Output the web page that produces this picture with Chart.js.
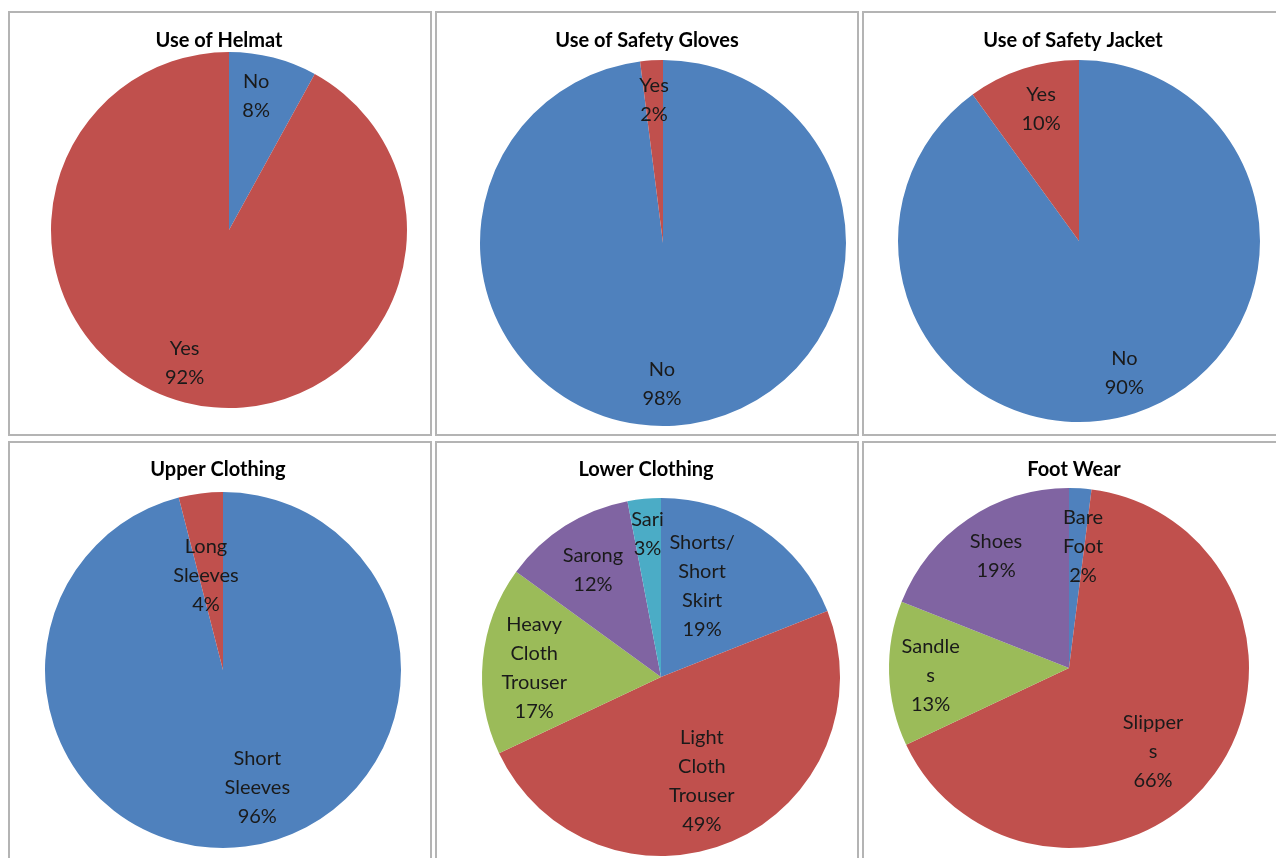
<!DOCTYPE html>
<html>
<head>
<meta charset="utf-8">
<script src="https://cdn.jsdelivr.net/npm/chart.js@4"></script>
<style>
  html, body { margin: 0; padding: 0; background: #fff; overflow: hidden; }
  body { width: 1276px; height: 858px; position: relative; }
  .panel { position: absolute; width: 424px; height: 425px; }
  .panel canvas { position: absolute; left: 0; top: 0; }
  .frame { position: absolute; left: 0; top: 0; right: 0; bottom: 0; border: 2px solid #b4b4b4; box-sizing: border-box; pointer-events: none; }
</style>
</head>
<body>
<div class="panel" style="left:8px;top:11px"><canvas id="c1" width="424" height="425"></canvas><div class="frame"></div></div>
<div class="panel" style="left:435px;top:11px"><canvas id="c2" width="424" height="425"></canvas><div class="frame"></div></div>
<div class="panel" style="left:862px;top:11px"><canvas id="c3" width="424" height="425"></canvas><div class="frame"></div></div>
<div class="panel" style="left:8px;top:441px"><canvas id="c4" width="424" height="425"></canvas><div class="frame"></div></div>
<div class="panel" style="left:435px;top:441px"><canvas id="c5" width="424" height="425"></canvas><div class="frame"></div></div>
<div class="panel" style="left:862px;top:441px"><canvas id="c6" width="424" height="425"></canvas><div class="frame"></div></div>
<script>
// Survey data (percent of respondents)
const helmetLabels = [['No'], ['Yes']];
const helmetValues = [8, 92];

const glovesLabels = [['No'], ['Yes']];
const glovesValues = [98, 2];

const jacketLabels = [['No'], ['Yes']];
const jacketValues = [90, 10];

const upperLabels = [['Short', 'Sleeves'], ['Long', 'Sleeves']];
const upperValues = [96, 4];

const lowerLabels = [['Shorts/', 'Short', 'Skirt'], ['Light', 'Cloth', 'Trouser'], ['Heavy', 'Cloth', 'Trouser'], ['Sarong'], ['Sari']];
const lowerValues = [19, 49, 17, 12, 3];

const footLabels = [['Bare', 'Foot'], ['Slipper', 's'], ['Sandle', 's'], ['Shoes']];
const footValues = [2, 66, 13, 19];

// Office-style series colours
const palette = ['#4F81BD', '#C0504D', '#9BBB59', '#8064A2', '#4BACC6'];

const FONT = "Lato, 'Open Sans', sans-serif";

// draws the title and the in-slice labels
const pieText = {
  id: 'pieText',
  afterDatasetsDraw(chart, args, opts) {
    const ctx = chart.ctx;
    ctx.save();
    ctx.fillStyle = '#000';
    ctx.font = 'bold 20px ' + FONT;
    ctx.textAlign = 'center';
    ctx.textBaseline = 'middle';
    ctx.fillText(opts.title, opts.titleX, opts.titleY);

    ctx.font = '20px ' + FONT;
    ctx.fillStyle = '#1a1a1a';
    const meta = chart.getDatasetMeta(0);
    const values = chart.data.datasets[0].data;
    meta.data.forEach((arc, i) => {
      const p = arc.getProps(['x', 'y', 'startAngle', 'endAngle', 'outerRadius'], true);
      const mid = (p.startAngle + p.endAngle) / 2 + (opts.nudge[i] || 0) * Math.PI / 180;
      const d = p.outerRadius * opts.dist[i];
      const lx = p.x + Math.cos(mid) * d;
      const ly = p.y + Math.sin(mid) * d;
      const lines = chart.data.labels[i].concat([values[i] + '%']);
      const lh = 29;
      const y0 = ly - (lines.length - 1) * lh / 2;
      lines.forEach((t, k) => ctx.fillText(t, lx, y0 + k * lh));
    });
    ctx.restore();
  }
};

function makePie(id, title, labels, values, geo) {
  const W = 424, H = 425;
  new Chart(document.getElementById(id), {
    type: 'pie',
    data: {
      labels: labels,
      datasets: [{
        data: values,
        backgroundColor: palette.slice(0, values.length),
        borderWidth: 0,
        hoverOffset: 0
      }]
    },
    options: {
      responsive: false,
      animation: false,
      events: [],
      layout: {
        padding: {
          left: geo.cx - geo.r,
          right: W - geo.cx - geo.r,
          top: geo.cy - geo.r,
          bottom: H - geo.cy - geo.r
        }
      },
      plugins: {
        legend: { display: false },
        tooltip: { enabled: false },
        title: { display: false },
        pieText: {
          title: title,
          titleX: geo.tx,
          titleY: geo.ty,
          dist: geo.dist,
          nudge: geo.nudge
        }
      }
    },
    plugins: [pieText]
  });
}

makePie('c1', 'Use of Helmat', helmetLabels, helmetValues,
  { cx: 221, cy: 219, r: 178, tx: 211, ty: 30, dist: [0.77, 0.79], nudge: [-3, 4] });
makePie('c2', 'Use of Safety Gloves', glovesLabels, glovesValues,
  { cx: 228, cy: 232, r: 183, tx: 212, ty: 30, dist: [0.77, 0.78], nudge: [4, 0] });
makePie('c3', 'Use of Safety Jacket', jacketLabels, jacketValues,
  { cx: 217, cy: 230, r: 181, tx: 211, ty: 30, dist: [0.77, 0.76], nudge: [-1, 2] });
makePie('c4', 'Upper Clothing', upperLabels, upperValues,
  { cx: 215, cy: 229, r: 178, tx: 210, ty: 29, dist: [0.69, 0.54], nudge: [-9, -3] });
makePie('c5', 'Lower Clothing', lowerLabels, lowerValues,
  { cx: 226, cy: 236, r: 179, tx: 211, ty: 29, dist: [0.56, 0.625, 0.71, 0.71, 0.8], nudge: [-10, 2, -1.5, 0, 0] });
makePie('c6', 'Foot Wear', footLabels, footValues,
  { cx: 207, cy: 227, r: 180, tx: 212, ty: 29, dist: [0.68, 0.66, 0.77, 0.74], nudge: [3, 9, -1.5, 1] });
</script>
</body>
</html>
